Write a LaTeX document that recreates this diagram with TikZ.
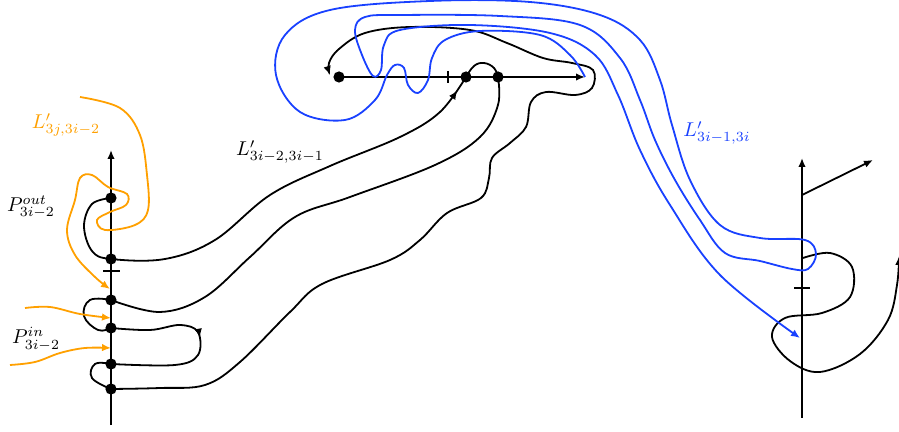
\documentclass[tikz,border=0pt]{standalone}
\usetikzlibrary{arrows.meta,decorations.markings}
\definecolor{myblue}{RGB}{25,65,255}
\definecolor{myorange}{RGB}{255,160,0}
\begin{document}
\begin{tikzpicture}[x=0.5pt,y=-0.5pt,line width=0.9pt,
  >={Latex[length=4.5pt,width=3.8pt]},
  dot/.style={circle,fill,inner sep=0pt,minimum size=5.6pt},
  bcurve/.style={myblue,line width=0.9pt},
  ocurve/.style={myorange,line width=0.9pt},
  midarrow/.style={postaction={decorate},decoration={markings,mark=at position #1 with {\arrow{Latex[length=4.5pt,width=3.8pt]}}}},
  lab/.style={inner sep=0pt}]
\useasboundingbox (0,0) rectangle (899,432);

% ---------- left axis ----------
\coordinate (L0) at (111,425);
\coordinate (L1) at (111,150);
\draw[->] (L0) -- (L1);
\draw (103,271) -- (120,271);
\node[dot] (p1) at (111,198) {};
\node[dot] (p2) at (111,259) {};
\node[dot] (p3) at (111,300) {};
\node[dot] (p4) at (111,328) {};
\node[dot] (p5) at (111,364) {};
\node[dot] (p6) at (111,389) {};

% ---------- top axis ----------
\node[dot] (q1) at (339,77) {};
\node[dot] (q2) at (466,77) {};
\node[dot] (q3) at (498,77) {};
\coordinate (T1) at (585,77);
\draw[->] (q1.center) -- (T1);
\draw (448,71) -- (448,83);

% ---------- right axis ----------
\coordinate (R0) at (802,418);
\coordinate (R1) at (802,158);
\coordinate (R2) at (802,195);
\coordinate (R3) at (873,160);
\draw[->] (R0) -- (R1);
\draw[->] (R2) -- (R3);
\draw (794,288) -- (810,288);

% ---------- black curves ----------
\draw[midarrow=-8pt] plot[smooth,tension=0.6] coordinates {(p1.center) (92,204) (84,226) (92,251) (p2.center) (165,259) (215,240) (270,195) (330,166) (400,137) (440,112) (q2.center)};
\draw plot[smooth,tension=0.7] coordinates {(q2.center) (474,66) (484,63) (494,68) (q3.center)};
\draw plot[smooth,tension=0.6] coordinates {(q3.center) (498,105) (480,137) (435,165) (350,197) (295,217) (250,257) (205,297) (160,312) (p3.center)};
\draw plot[smooth,tension=0.7] coordinates {(p3.center) (90,300) (84,316) (98,330) (p4.center)};
\draw[midarrow=0.47] plot[smooth,tension=0.6] coordinates {(p4.center) (150,330) (180,325) (198,332) (198,355) (175,365) (p5.center)};
\draw plot[smooth,tension=0.7] coordinates {(p5.center) (95,364) (92,378) (p6.center)};
\draw[->] plot[smooth,tension=0.6] coordinates {(p6.center) (160,388) (205,385) (240,362) (290,312) (322,284) (390,260) (420,240) (447,213) (481,198) (489,178) (492,158) (510,143) (526,127) (531,102) (546,92) (575,95) (592,88) (593,70) (572,63) (543,58) (507,43) (470,30) (410,27) (365,33) (339,49) (329,63) (330,75)};

\draw[->] plot[smooth,tension=0.6] coordinates {(803,258) (830,253) (852,267) (850,297) (822,313) (785,318) (772,337) (790,361) (820,372) (860,354) (888,320) (897,285) (899,256)};

% ---------- blue curve ----------
\draw[bcurve,->] plot[smooth,tension=0.6] coordinates {(T1) (570,55) (540,35) (480,31) (445,40) (432,58) (428,80) (418,93) (408,85) (404,68) (395,65) (387,75) (375,100) (345,120) (300,112) (276,75) (285,35) (330,10) (430,1) (530,2) (600,15) (640,40) (660,80) (672,125) (690,180) (720,225) (760,238) (805,240) (816,254) (808,269) (792,269) (760,261) (725,253) (700,220) (675,180) (655,140) (640,100) (620,58) (580,25) (500,16) (400,15) (365,17) (355,30) (362,55) (373,76) (381,70) (384,45) (400,30) (470,25) (550,33) (595,55) (618,95) (640,150) (670,205) (720,275) (800,338)};

% ---------- orange curves ----------
\draw[ocurve,->] plot[smooth,tension=0.6] coordinates {(80,97) (120,108) (140,135) (147,175) (148,210) (135,225) (105,230) (97,220) (110,212) (126,205) (127,194) (108,187) (92,175) (80,178) (75,200) (67,230) (75,255) (95,277) (110,289)};
\draw[ocurve,->] plot[smooth,tension=0.6] coordinates {(25,308) (50,307) (80,314) (111,318)};
\draw[ocurve,->] plot[smooth,tension=0.6] coordinates {(10,365) (35,362) (60,353) (85,348) (111,348)};

% ---------- labels ----------
\node[lab,text=myorange] (lo) at (66,125) {$L'_{3j,3i-2}$};
\node[lab] (lpo) at (31,207) {$P^{out}_{3i-2}$};
\node[lab] (lpi) at (36,339) {$P^{in}_{3i-2}$};
\node[lab] (lb) at (280,152) {$L'_{3i-2,3i-1}$};
\node[lab,text=myblue] (lbl) at (717,133) {$L'_{3i-1,3i}$};
\end{tikzpicture}
\end{document}
